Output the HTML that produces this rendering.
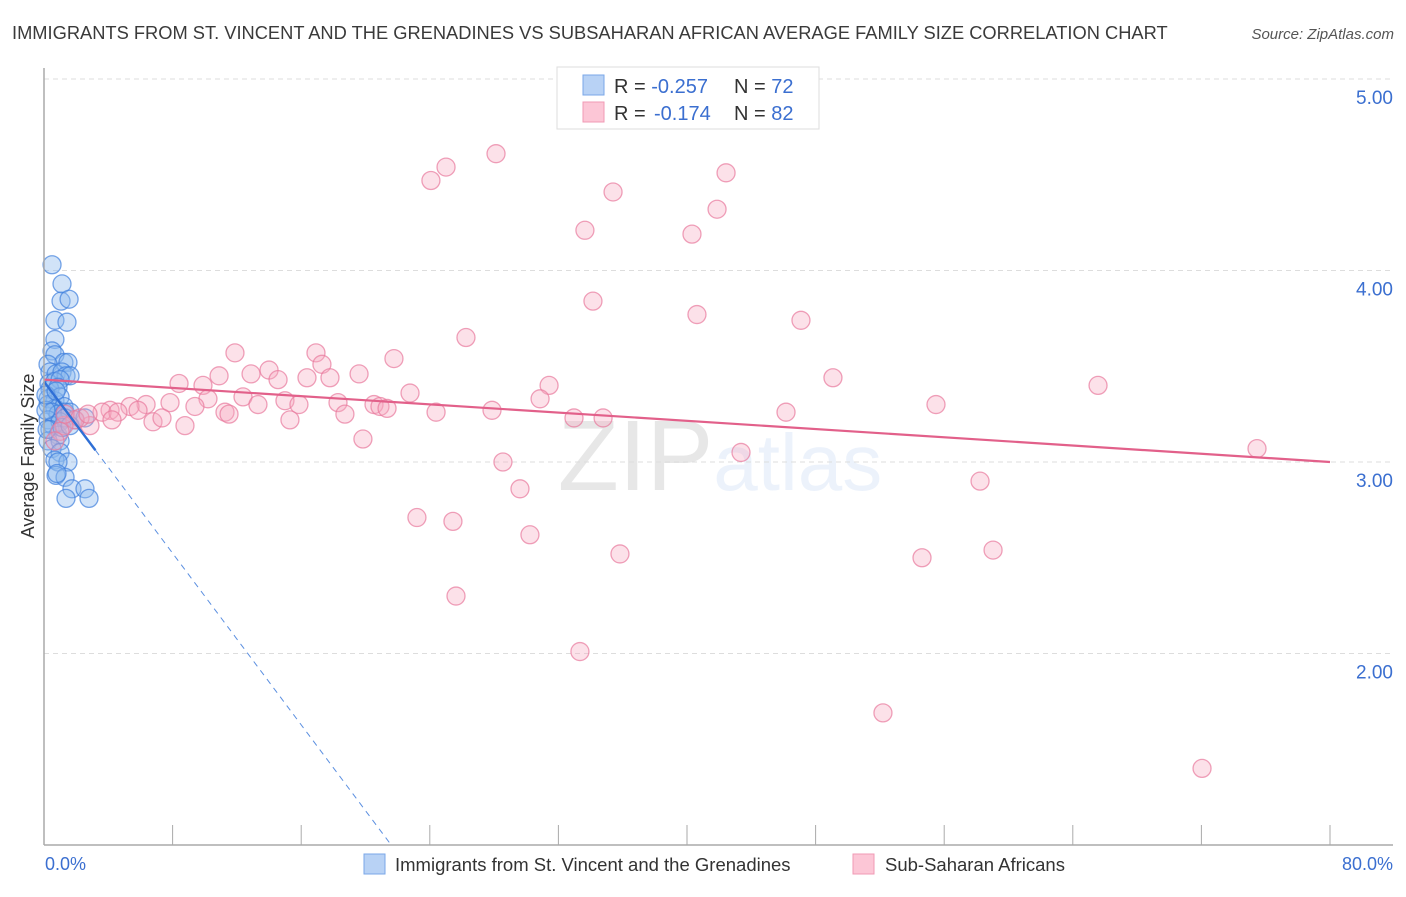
<!DOCTYPE html>
<html><head><meta charset="utf-8"><style>
body{margin:0;background:#fff;font-family:"Liberation Sans",sans-serif;}
svg text{font-family:"Liberation Sans",sans-serif;}
</style></head><body>
<svg id="chart" width="1406" height="892" xmlns="http://www.w3.org/2000/svg">
<text x="12" y="39" font-size="18.3" fill="#3a3a3a">IMMIGRANTS FROM ST. VINCENT AND THE GRENADINES VS SUBSAHARAN AFRICAN AVERAGE FAMILY SIZE CORRELATION CHART</text>
<text x="1394" y="39" font-size="15" fill="#555" font-style="italic" text-anchor="end">Source: ZipAtlas.com</text>
<text x="720" y="490" font-size="100" text-anchor="middle" fill="#000" opacity="0.09" font-family="Liberation Serif">ZIP<tspan fill="#3b7ddd" opacity="1" font-family="Liberation Sans" font-size="80">atlas</tspan></text>
<text transform="translate(34,456) rotate(-90)" font-size="18" fill="#333" text-anchor="middle">Average Family Size</text>
<g id="grid"></g><g id="ticks"></g><g id="pts"></g><g id="lines"></g>
<line x1="44" y1="845" x2="1393" y2="845" stroke="#aaa" stroke-width="1.5"/>
<line x1="44" y1="68" x2="44" y2="845" stroke="#aaa" stroke-width="1.5"/>
<text x="45" y="870" font-size="18" fill="#3b6fd0">0.0%</text>
<text x="1393" y="870" font-size="18" fill="#3b6fd0" text-anchor="end">80.0%</text>
<g>
<rect x="557" y="67" width="262" height="62" fill="#fff" stroke="#ddd"/>
<rect x="583" y="75" width="21" height="20" fill="#b8d2f5" stroke="#7aa7e8"/>
<rect x="583" y="102" width="21" height="20" fill="#fcc6d6" stroke="#f09ab4"/>
<text x="614" y="93" font-size="20" fill="#333">R = <tspan fill="#3b6fd0">-0.257</tspan><tspan x="734">N = </tspan><tspan fill="#3b6fd0">72</tspan></text>
<text x="614" y="120" font-size="20" fill="#333">R = <tspan fill="#3b6fd0" x="654">-0.174</tspan><tspan x="734">N = </tspan><tspan fill="#3b6fd0">82</tspan></text>
</g>
<g>
<rect x="364" y="854" width="21" height="20" fill="#b8d2f5" stroke="#7aa7e8"/>
<text x="395" y="871" font-size="18.5" fill="#333">Immigrants from St. Vincent and the Grenadines</text>
<rect x="853" y="854" width="21" height="20" fill="#fcc6d6" stroke="#f09ab4"/>
<text x="885" y="871" font-size="18.5" fill="#333">Sub-Saharan Africans</text>
</g>
</svg>
<script>
const yTicks=[2,3,4,5];
const yTickLabels=["2.00","3.00","4.00","5.00"];
const xTicks=[0,8,16,24,32,40,48,56,64,72,80];
const blueX=[0.5,1.12,1.06,1.56,0.68,1.43,0.68,0.5,0.68,1.24,1.49,0.25,0.37,0.75,1.12,1.37,1.62,0.31,0.68,1.0,0.37,0.87,0.25,0.68,1.0,0.25,0.68,1.24,0.5,0.87,1.31,1.62,0.25,0.56,1.0,1.31,1.93,2.55,0.37,0.87,0.25,1.0,0.5,1.0,0.68,1.49,0.87,0.75,1.31,1.74,2.55,1.37,2.8,0.81,0.12,0.12,0.19,1.12,1.62,0.75];
const blueY=[4.03,3.93,3.84,3.85,3.74,3.73,3.64,3.58,3.56,3.52,3.52,3.51,3.47,3.46,3.47,3.45,3.45,3.41,3.42,3.43,3.38,3.39,3.33,3.32,3.34,3.30,3.28,3.29,3.26,3.25,3.26,3.26,3.22,3.19,3.21,3.23,3.22,3.23,3.17,3.14,3.11,3.11,3.07,3.05,3.01,3.0,3.0,2.93,2.92,2.86,2.86,2.81,2.81,2.94,3.27,3.35,3.17,3.18,3.19,3.37];
const pinkX=[24.07,25.01,28.12,35.4,42.43,41.87,33.65,40.31,34.15,40.62,47.09,26.25,21.77,11.88,16.92,17.29,14.0,12.88,10.89,14.56,16.36,17.79,19.6,8.4,9.89,31.42,49.08,65.57,22.77,12.38,10.2,14.99,30.86,11.26,9.39,7.84,6.35,5.35,4.11,3.61,5.85,4.6,13.31,15.86,18.29,20.53,20.9,21.34,24.39,27.87,32.97,34.78,46.16,55.49,18.72,15.3,11.51,8.77,6.78,7.34,4.23,2.86,1.93,1.24,19.84,43.36,75.46,28.55,29.61,58.23,23.2,25.44,30.23,35.83,54.62,59.04,25.63,33.34,52.19,72.04,1.0,1.31,0.68,2.24,2.74];
const pinkY=[4.47,4.54,4.61,4.41,4.51,4.32,4.21,4.19,3.84,3.77,3.74,3.65,3.54,3.57,3.57,3.51,3.48,3.46,3.45,3.43,3.44,3.44,3.46,3.41,3.40,3.40,3.44,3.40,3.36,3.34,3.33,3.32,3.33,3.26,3.29,3.31,3.30,3.29,3.27,3.26,3.27,3.26,3.30,3.30,3.31,3.30,3.29,3.28,3.26,3.27,3.23,3.23,3.26,3.30,3.25,3.22,3.25,3.19,3.21,3.23,3.22,3.19,3.22,3.19,3.12,3.05,3.07,3.0,2.86,2.90,2.71,2.69,2.62,2.52,2.50,2.54,2.30,2.01,1.69,1.40,3.16,3.25,3.11,3.23,3.25];
const blueTrend=[3.42,1.0];
const blueTrendX=[0,21.6];
const pinkTrend=[3.43,3.0];
const pinkTrendX=[0,80];
const NS="http://www.w3.org/2000/svg";
const sx=v=>44+v*16.075;
const sy=v=>462-(v-3)*191.5;
function mk(tag,attrs,parent){const e=document.createElementNS(NS,tag);for(const k in attrs)e.setAttribute(k,attrs[k]);document.getElementById(parent).appendChild(e);return e;}
yTicks.forEach((t,i)=>{
 const l=mk('line',{x1:44,x2:1393,y1:sy(t),y2:sy(t),stroke:'#ddd','stroke-dasharray':'5,4'},'grid');
 
 
 const tx=mk('text',{x:1393,y:sy(t)+25,'font-size':19,fill:'#3b6fd0','text-anchor':'end'},'grid');
 tx.textContent=yTickLabels[i];
 
 
});
xTicks.forEach(t=>{
 const l=mk('line',{x1:sx(t),x2:sx(t),y1:825,y2:845,stroke:'#aaa'},'ticks');
 
 
});
blueX.forEach((x,i)=>{
 const c=mk('circle',{cx:sx(x),cy:sy(blueY[i]),r:9,fill:'#8db8ee','fill-opacity':0.4,stroke:'#3f7fdd','stroke-opacity':0.7,'stroke-width':1.3},'pts');
 
 
});
pinkX.forEach((x,i)=>{
 const c=mk('circle',{cx:sx(x),cy:sy(pinkY[i]),r:9,fill:'#f6a9c1','fill-opacity':0.35,stroke:'#e8799c','stroke-opacity':0.7,'stroke-width':1.3},'pts');
 
 
});
const pl=mk('line',{x1:sx(pinkTrendX[0]),y1:sy(pinkTrend[0]),x2:sx(pinkTrendX[1]),y2:sy(pinkTrend[1]),stroke:'#e2608a','stroke-width':2.2},'lines');


const f=3.2/21.6;
const bSolidEnd=blueTrend[0]+(blueTrend[1]-blueTrend[0])*f;
const bl=mk('line',{x1:sx(blueTrendX[0]),y1:sy(blueTrend[0]),x2:sx(blueTrendX[1]*f),y2:sy(bSolidEnd),stroke:'#2f6fd6','stroke-width':2.4},'lines');


const bd=mk('line',{x1:sx(blueTrendX[1]*f),y1:sy(bSolidEnd),x2:sx(blueTrendX[1]),y2:sy(blueTrend[1]),stroke:'#5b8fe0','stroke-width':1,'stroke-dasharray':'6,5'},'lines');


</script>
</body></html>
